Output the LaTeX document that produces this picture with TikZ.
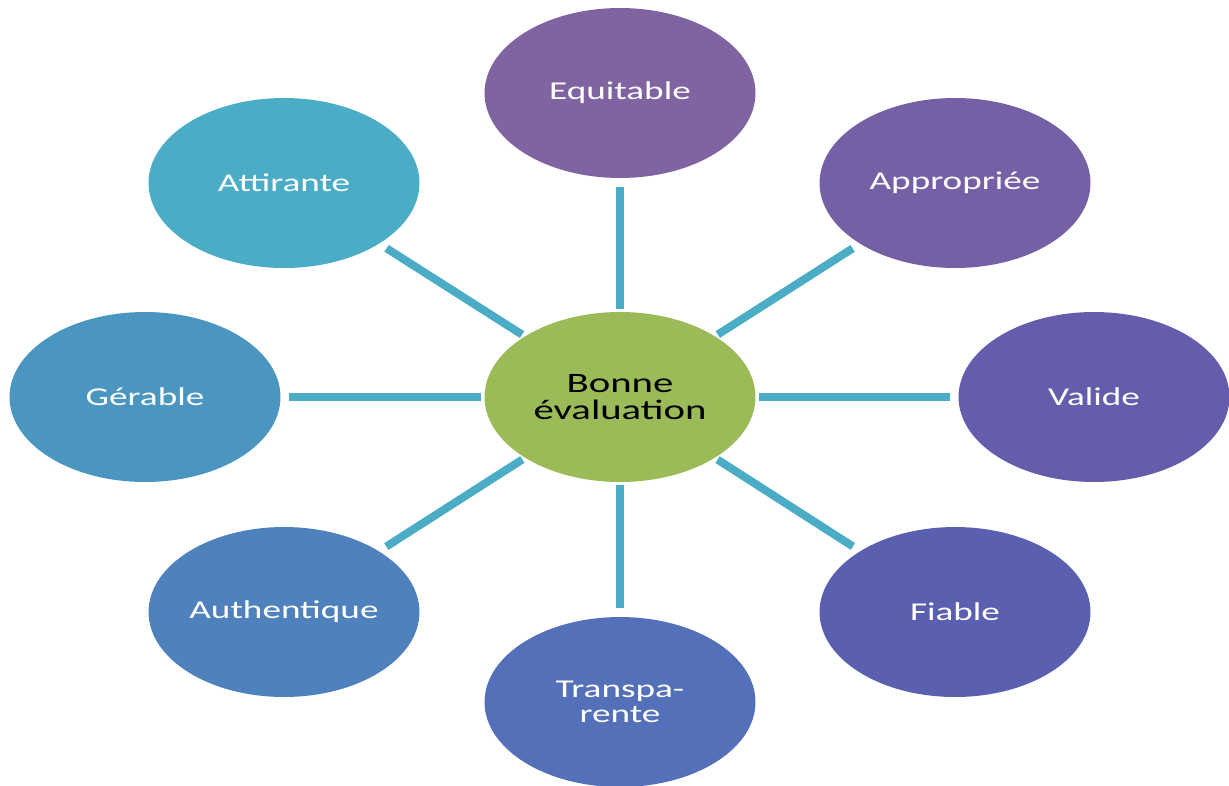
\documentclass[tikz,border=0pt]{standalone}
\usepackage{fontspec}
\setmainfont[FakeStretch=1.45]{Carlito}
\usepackage{tikz}
\usetikzlibrary{shapes.geometric}
\definecolor{spokeblue}{HTML}{4BACC6}
\definecolor{centregreen}{HTML}{9BBB59}
\definecolor{cEquitable}{HTML}{8064A2}
\definecolor{cAppropriee}{HTML}{7560A6}
\definecolor{cValide}{HTML}{655DAB}
\definecolor{cFiable}{HTML}{5A60AF}
\definecolor{cTransparente}{HTML}{5470B8}
\definecolor{cAuthentique}{HTML}{4F81BD}
\definecolor{cGerable}{HTML}{4A96C1}
\definecolor{cAttirante}{HTML}{4BACC6}
\tikzstyle{petal}=[
        ellipse,
        minimum width=5.42cm,
        minimum height=3.4cm,
        inner sep=0pt,
        align=center,
        text=white,
        font=\fontsize{14.6}{14.2}\selectfont
]
\tikzstyle{spoke}=[
        draw=spokeblue,
        line width=0.16cm,
        shorten <=0.06cm,
        shorten >=0.17cm
]

\begin{document}
\begin{tikzpicture}[x=0.02cm,y=-0.02cm]
                        \useasboundingbox (0,0) rectangle (1229,785);

                        \node[petal,fill=centregreen,text=black,font=\fontsize{16}{15.5}\selectfont] (centre) at (620,397) {Bonne\\évaluation};

                        \node[petal,fill=cEquitable] (equitable) at (620,93) {Equitable};
                        \node[petal,fill=cAppropriee] (appropriee) at (955,183) {Appropriée};
                        \node[petal,fill=cValide] (valide) at (1094,397) {Valide};
                        \node[petal,fill=cFiable] (fiable) at (955,612) {Fiable};
                        \node[petal,fill=cTransparente] (transparente) at (620,702) {Transpa-\\rente};
                        \node[petal,fill=cAuthentique] (authentique) at (284,612) {Authentique};
                        \node[petal,fill=cGerable] (gerable) at (145,397) {Gérable};
                        \node[petal,fill=cAttirante] (attirante) at (284,183) {Attirante};

                        \foreach \n in {equitable,appropriee,valide,fiable,transparente,authentique,gerable,attirante} {
                            \draw[spoke] (centre) -- (\n);
                        }

                    \end{tikzpicture}
\end{document}
